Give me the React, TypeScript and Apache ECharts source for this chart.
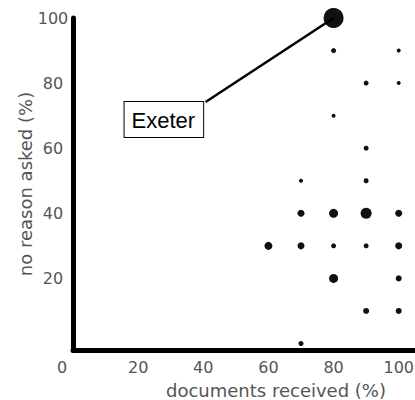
import React, { useEffect, useRef } from "react";
import * as echarts from "echarts";

const docsReceived = [80, 80, 100, 90, 100, 80, 90, 70, 90, 70, 80, 90, 100, 60, 70, 80, 90, 100, 80, 100, 90, 100, 70];
const noReasonAsked = [100, 90, 90, 80, 80, 70, 60, 50, 50, 40, 40, 40, 40, 30, 30, 30, 30, 30, 20, 20, 10, 10, 0];
const counts = [9, 1.5, 1, 1.5, 1, 1, 1.5, 1, 1.5, 2.5, 3.5, 4.5, 2.5, 3, 2.5, 1.5, 1.5, 2.5, 3.5, 2, 2, 2, 1.5];
const xTicks = [0, 20, 40, 60, 80, 100];
const yTicks = [20, 40, 60, 80, 100];
const highlightName = "Exeter";
const highlightIndex = 0;

const FONT = "DejaVu Sans";
const GREY = "#555";

export default function App() {
  const ref = useRef<HTMLDivElement>(null);
  useEffect(() => {
    if (!ref.current) return;
    const chart = echarts.init(ref.current, null, { renderer: "svg" });
    const data = docsReceived.map((x, i) => ({ value: [x, noReasonAsked[i]] }));
    chart.setOption({
      animation: false,
      backgroundColor: "#fff",
      grid: { left: 73, right: 0, top: 18, bottom: 50, containLabel: false, outerBoundsMode: "none" },
      xAxis: {
        type: "value",
        min: 0,
        max: 105,
        name: "documents received (%)",
        nameLocation: "middle",
        nameGap: 31,
        nameMoveOverlap: false,
        nameTextStyle: { color: GREY, fontFamily: FONT, fontSize: 18, padding: [0, 0, 0, 64] },
        axisLine: { show: true, onZero: false, lineStyle: { color: "#000", width: 5 } },
        axisTick: { show: false },
        splitLine: { show: false },
        axisLabel: {
          customValues: xTicks,
          color: GREY,
          fontFamily: FONT,
          fontSize: 16,
          margin: 9,
          formatter: (v: number) => (v === 0 ? "{z|0}" : String(v)),
          rich: { z: { color: GREY, fontFamily: FONT, fontSize: 16, padding: [0, 22, 0, 0] } },
        },
      },
      yAxis: {
        type: "value",
        min: -2,
        max: 100,
        name: "no reason asked (%)",
        nameLocation: "middle",
        nameGap: 39,
        nameMoveOverlap: false,
        nameTextStyle: { color: GREY, fontFamily: FONT, fontSize: 18 },
        axisLine: { show: true, onZero: false, lineStyle: { color: "#000", width: 5 } },
        axisTick: { show: false },
        splitLine: { show: false },
        axisLabel: {
          customValues: yTicks,
          color: GREY,
          fontFamily: FONT,
          fontSize: 16,
          align: "center",
          margin: 20,
        },
      },
      series: [
        {
          type: "scatter",
          data,
          symbol: "circle",
          symbolSize: (_v: any, p: any) => 2 + 2 * counts[p.dataIndex],
          itemStyle: { color: "#111", opacity: 1 },
          emphasis: { disabled: true },
        },
      ],
    });
    const [px, py] = chart.convertToPixel({ seriesIndex: 0 }, [docsReceived[highlightIndex], noReasonAsked[highlightIndex]]) as number[];
    const cornerX = px - 128;
    const cornerY = py + 84;
    chart.setOption({
      graphic: [
        {
          type: "line",
          shape: { x1: px, y1: py, x2: cornerX, y2: cornerY },
          style: { stroke: "#000", lineWidth: 2.5 },
          z: 100,
        },
        {
          type: "text",
          x: cornerX - 81,
          y: cornerY,
          z: 101,
          style: {
            text: highlightName,
            fill: "#000",
            font: "22px 'Liberation Sans'",
            backgroundColor: "#fff",
            borderColor: "#000",
            borderWidth: 1,
            padding: [7, 8, 6, 7],
          },
        },
      ],
    });
    return () => chart.dispose();
  }, []);
  return <div ref={ref} style={{ position: "fixed", left: 0, top: 0, width: 415, height: 400 }} />;
}
